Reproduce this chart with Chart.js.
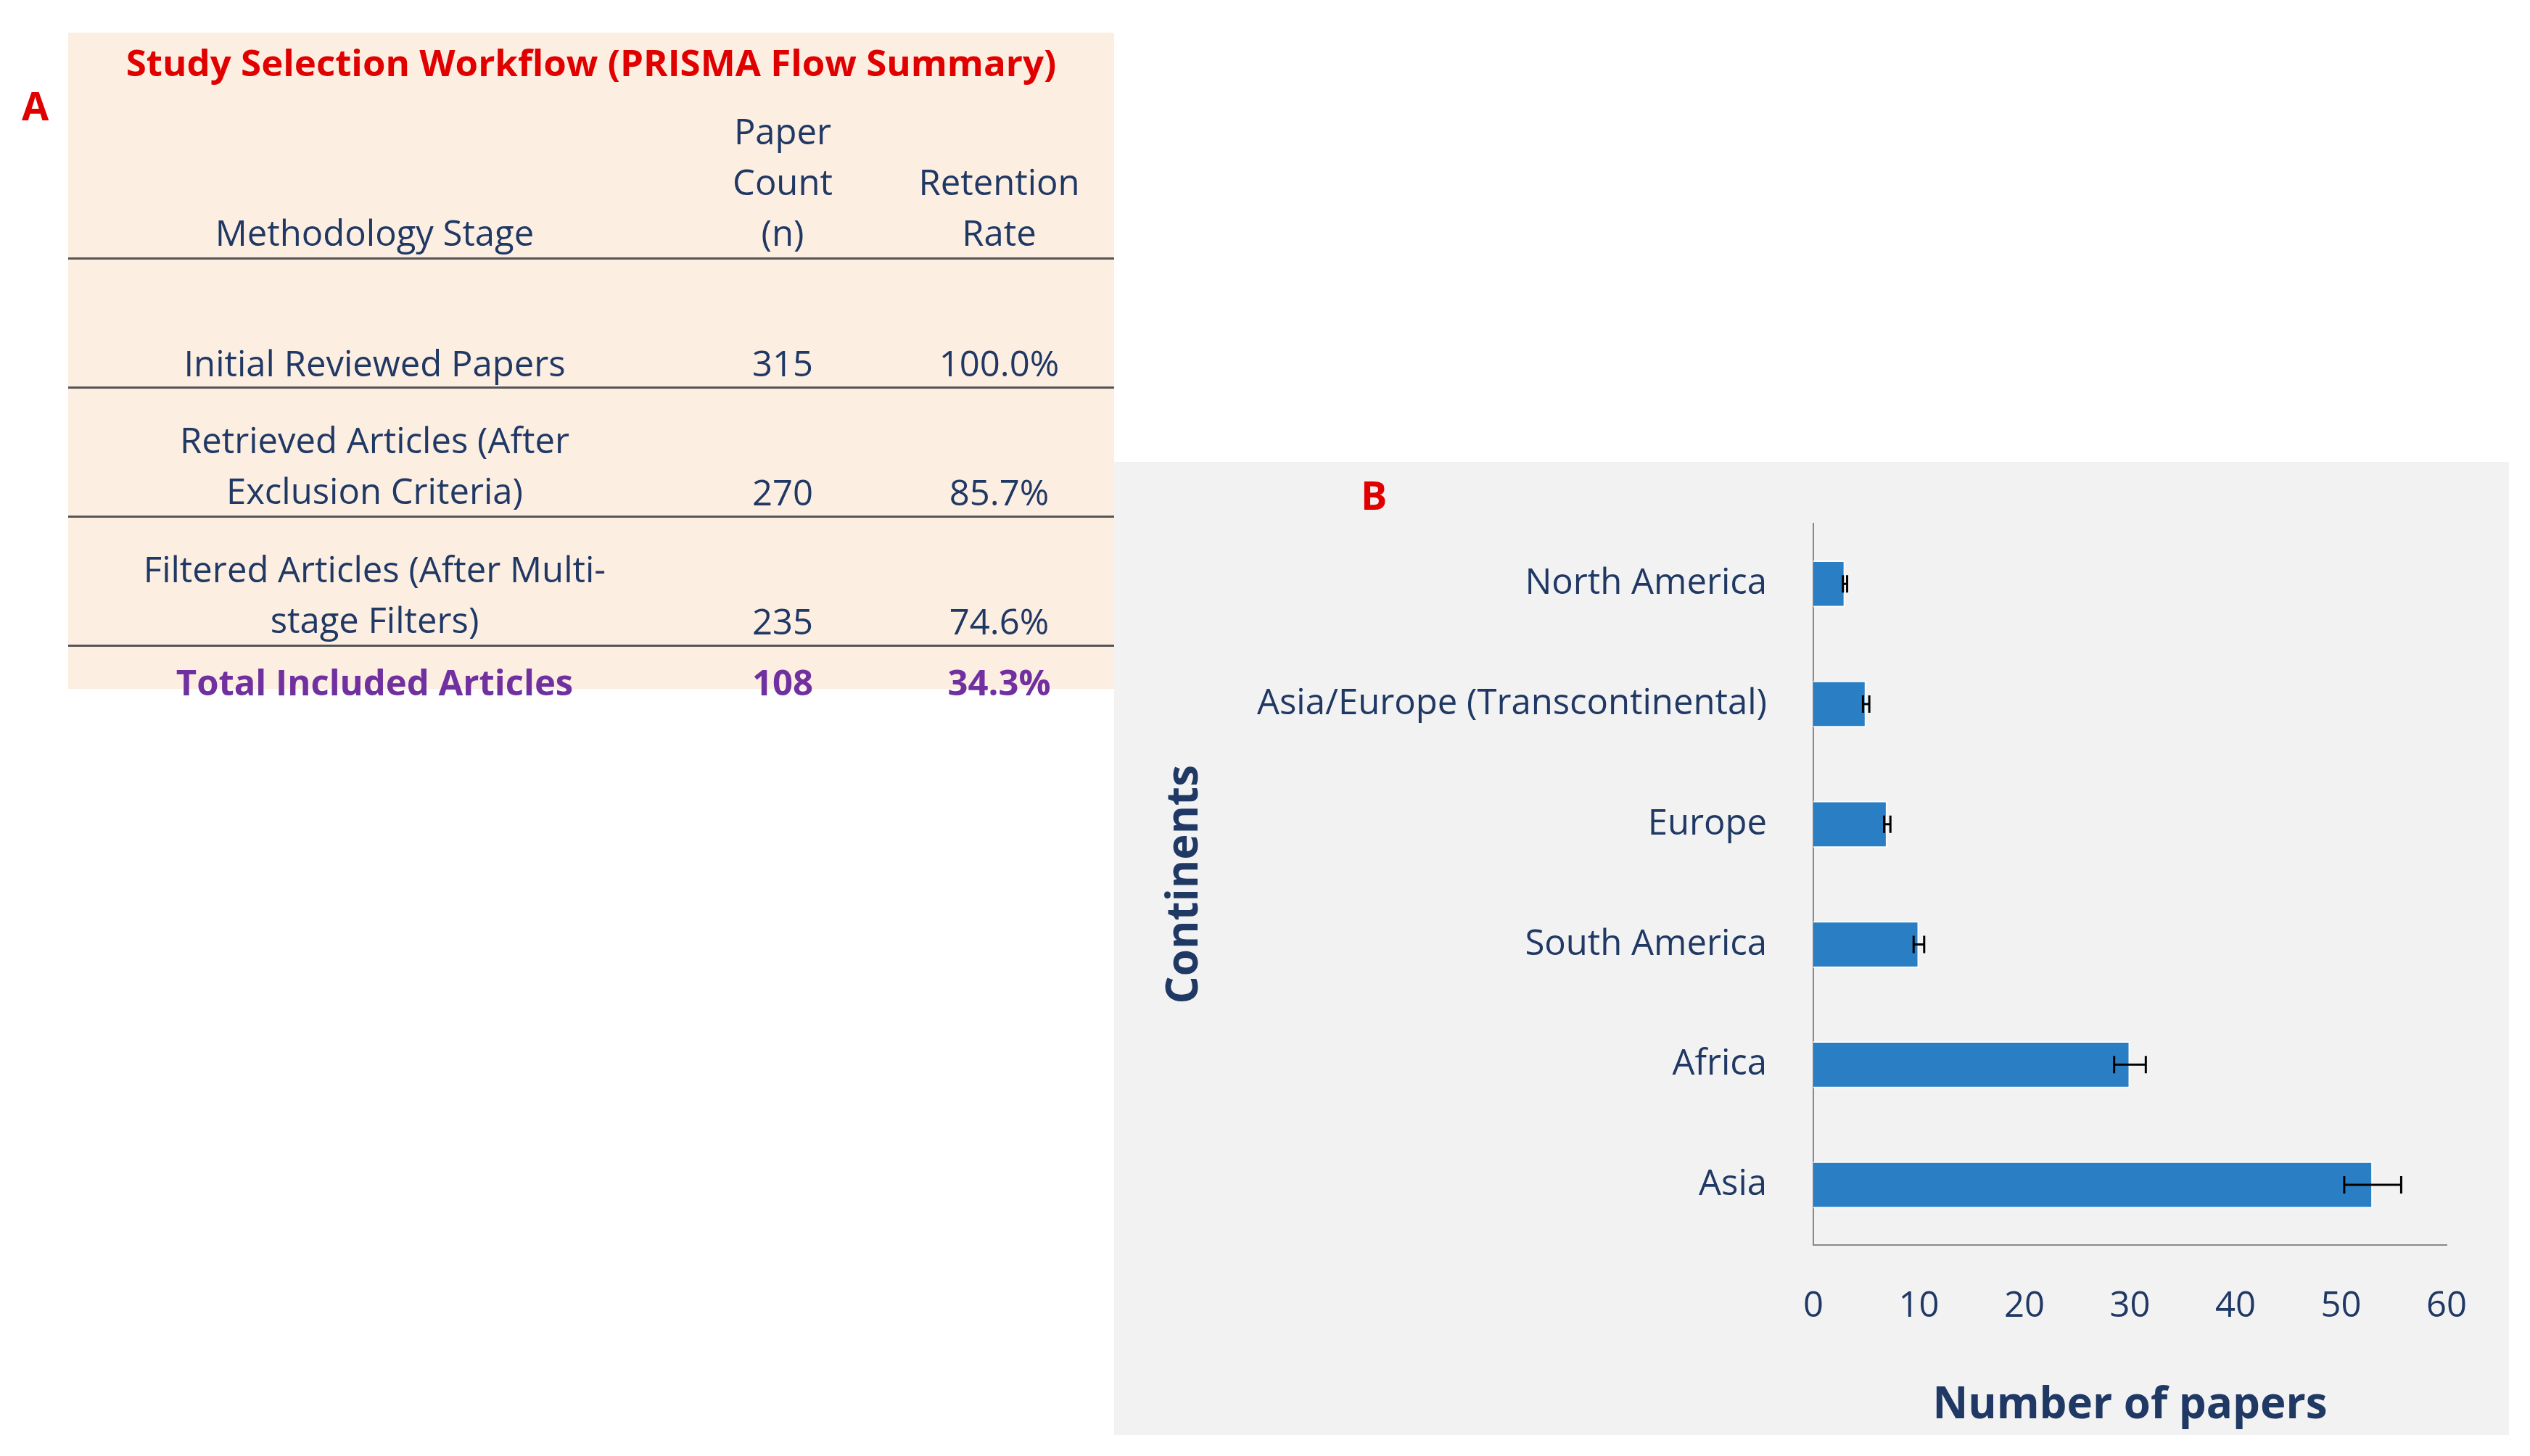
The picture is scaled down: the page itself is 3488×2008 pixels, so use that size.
<!DOCTYPE html>
<html>
<head>
<meta charset="utf-8">
<script src="https://cdn.jsdelivr.net/npm/chart.js@4"></script>
<style>
  body { margin: 0; width: 3488px; height: 2008px; background: #fff; position: relative; font-family: "Open Sans", sans-serif; overflow: hidden; }
  .lbl { position: absolute; color: #e00000; font-weight: bold; font-size: 54px; }
  #tableA { position: absolute; left: 94px; top: 45px; width: 1442px; height: 905px; background: #fdeee2; }
  #tableA table { border-collapse: collapse; width: 100%; color: #1f3864; font-size: 49px; }
  #tableA td { text-align: center; padding: 0; vertical-align: bottom; }
  #tableA .line td { border-bottom: 3px solid #555; }
  #panelB { position: absolute; left: 1536px; top: 637px; width: 1923px; height: 1342px; background: #f2f2f2; }
</style>
</head>
<body>
<div class="lbl" style="left:30px;top:108px;">A</div>
<div id="tableA">
  <div style="text-align:center;color:#e00000;font-weight:bold;font-size:51px;height:100px;line-height:80px;">Study Selection Workflow (PRISMA Flow Summary)</div>
  <table>
    <colgroup><col style="width:845px"><col style="width:280px"><col></colgroup>
    <tr class="line" style="height:158px;"><td style="padding-bottom:2px">Methodology Stage</td><td style="line-height:70px">Paper Count<br>(n)</td><td style="line-height:70px">Retention<br>Rate</td></tr>
    <tr class="line" style="height:178px;"><td>Initial Reviewed Papers</td><td>315</td><td>100.0%</td></tr>
    <tr class="line" style="height:178px;"><td style="line-height:70px">Retrieved Articles (After<br>Exclusion Criteria)</td><td>270</td><td>85.7%</td></tr>
    <tr class="line" style="height:178px;"><td style="line-height:70px">Filtered Articles (After Multi-<br>stage Filters)</td><td>235</td><td>74.6%</td></tr>
    <tr style="height:82px;color:#7030a0;font-weight:bold;"><td>Total Included Articles</td><td>108</td><td>34.3%</td></tr>
  </table>
</div>
<div id="panelB"><canvas id="chartB" width="1923" height="1342"></canvas></div>
<div class="lbl" style="left:1876px;top:645px;">B</div>
<script>
const continents = ["North America", "Asia/Europe (Transcontinental)", "Europe", "South America", "Africa", "Asia"];
const paperCounts = [3, 5, 7, 10, 30, 53];
const errorMargins = [0.2, 0.3, 0.3, 0.5, 1.5, 2.7];
const xTicks = [0, 10, 20, 30, 40, 50, 60];

const NAVY = "#1f3864";

const errorBarPlugin = {
  id: "errorBars",
  afterDatasetsDraw(chart) {
    const ctx = chart.ctx;
    const xs = chart.scales.x, ys = chart.scales.y;
    ctx.save();
    ctx.strokeStyle = "#000";
    ctx.lineWidth = 3;
    paperCounts.forEach((v, i) => {
      const y = ys.getPixelForValue(i);
      const x1 = xs.getPixelForValue(v - errorMargins[i]);
      const x2 = xs.getPixelForValue(v + errorMargins[i]);
      ctx.beginPath();
      ctx.moveTo(x1, y); ctx.lineTo(x2, y);
      ctx.moveTo(x1, y - 12); ctx.lineTo(x1, y + 12);
      ctx.moveTo(x2, y - 12); ctx.lineTo(x2, y + 12);
      ctx.stroke();
    });
    ctx.restore();
  }
};

new Chart(document.getElementById("chartB"), {
  type: "bar",
  data: {
    labels: continents,
    datasets: [{
      data: paperCounts,
      backgroundColor: "#2a7fc4",
      borderColor: "#ffffff",
      borderWidth: 2,
      categoryPercentage: 0.39,
      barPercentage: 1
    }]
  },
  options: {
    indexAxis: "y",
    responsive: false,
    animation: false,
    layout: { padding: { top: 41, right: 86, left: 0, bottom: 0 } },
    plugins: { legend: { display: false }, tooltip: { enabled: false } },
    scales: {
      x: {
        min: 0, max: 60,
        afterBuildTicks: (s) => { s.ticks = xTicks.map(v => ({ value: v })); },
        afterFit: (s) => { s.height = 262; },
        grid: { display: false },
        border: { display: true, color: "#888", width: 2 },
        ticks: { color: NAVY, font: { family: "Open Sans", size: 49 }, padding: 48 },
        title: { display: true, text: "Number of papers", color: NAVY, font: { family: "Open Sans", size: 60, weight: "bold" }, padding: { top: 40 } }
      },
      y: {
        afterFit: (s) => { s.width = 964; },
        grid: { display: false },
        border: { display: true, color: "#888", width: 2 },
        ticks: { color: NAVY, font: { family: "Open Sans", size: 49 }, padding: 56 },
        title: { display: true, text: "Continents", color: NAVY, font: { family: "Open Sans", size: 60, weight: "bold" }, padding: { top: 62 } }
      }
    }
  },
  plugins: [errorBarPlugin]
});
</script>
</body>
</html>
